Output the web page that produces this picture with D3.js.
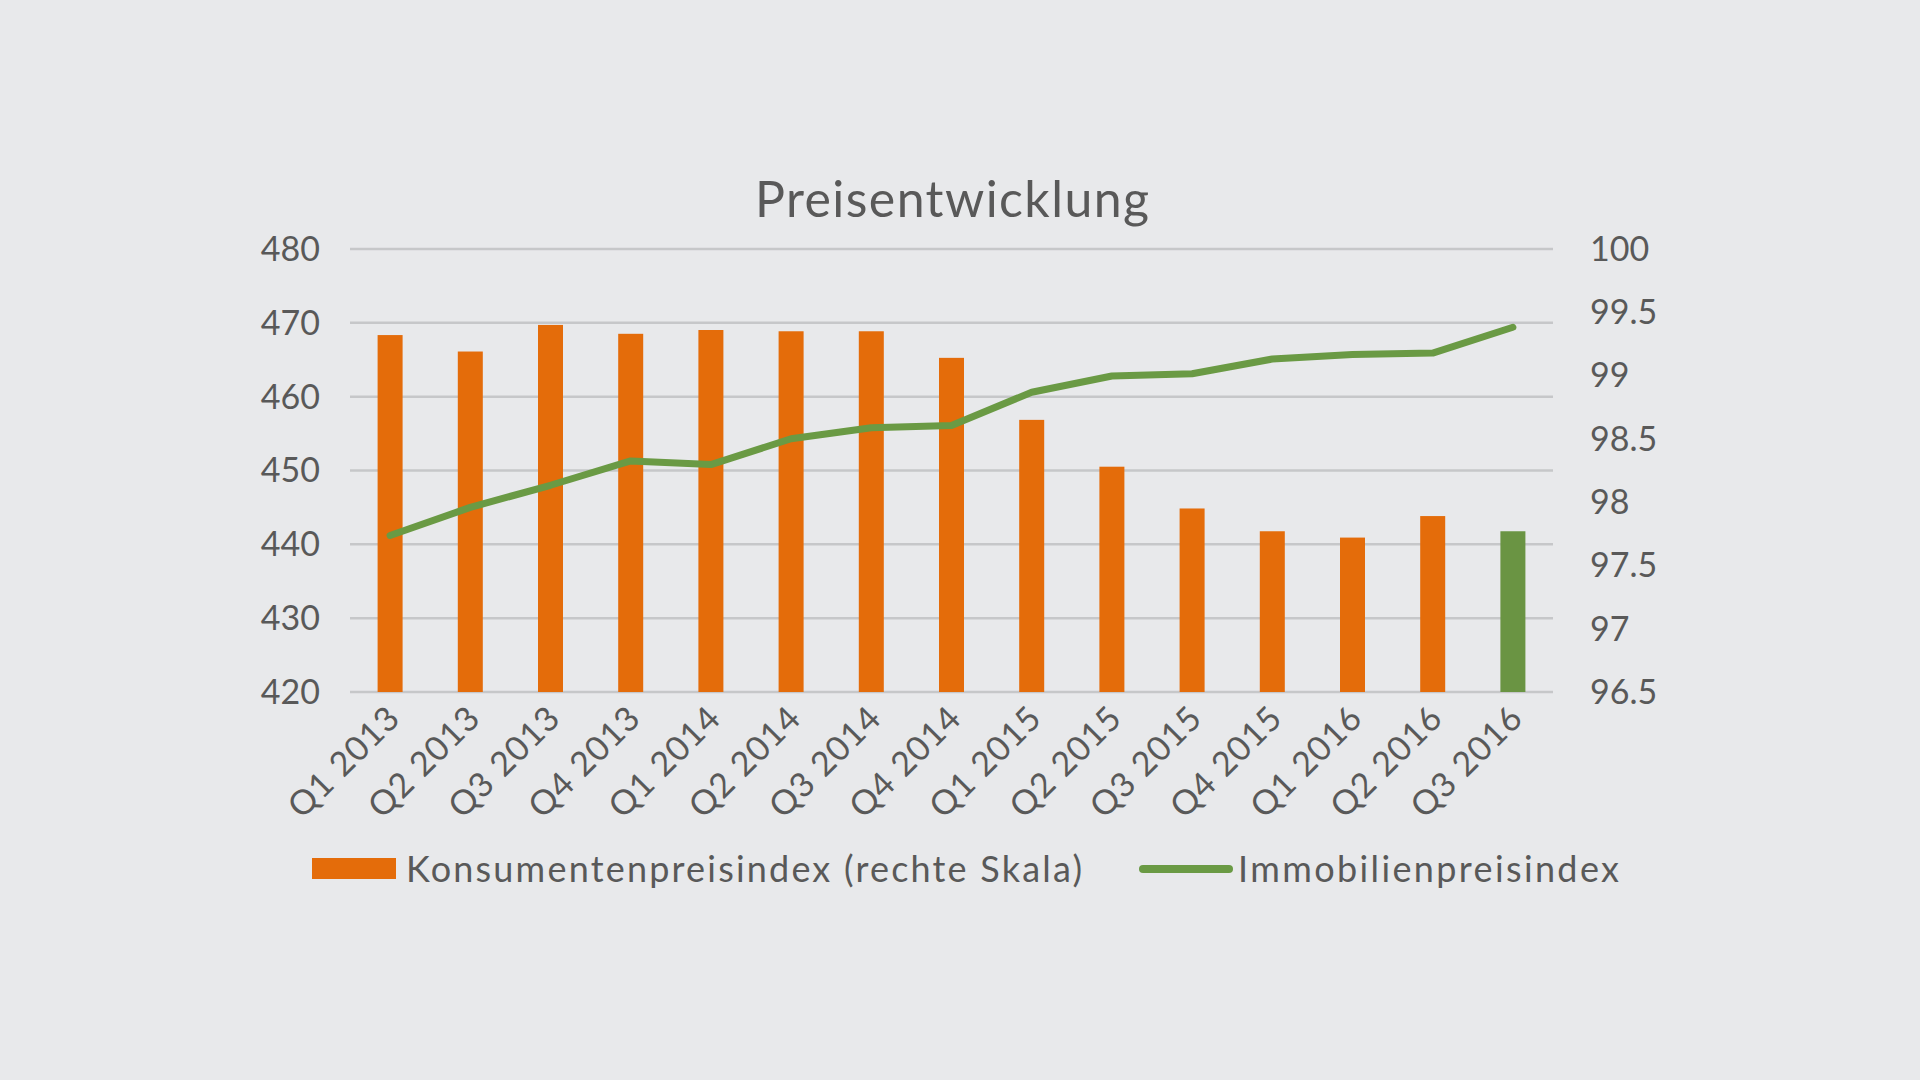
<!DOCTYPE html>
<html><head><meta charset="utf-8">
<script src="https://cdn.jsdelivr.net/npm/d3@7"></script>
<style>body{margin:0;background:#e8e9eb;}svg{display:block;font-family:Lato,"Open Sans",sans-serif;}</style>
</head><body><svg id="c" width="1920" height="1080"></svg>
<script>
const categories=["Q1 2013","Q2 2013","Q3 2013","Q4 2013","Q1 2014","Q2 2014","Q3 2014","Q4 2014","Q1 2015","Q2 2015","Q3 2015","Q4 2015","Q1 2016","Q2 2016","Q3 2016"];
const kpi=[99.32,99.19,99.40,99.33,99.36,99.35,99.35,99.14,98.65,98.28,97.95,97.77,97.72,97.89,97.77];
const immo=[441.2,445.0,448.0,451.3,450.8,454.3,455.8,456.1,460.6,462.8,463.1,465.1,465.7,465.9,469.4];
const leftTicks=[420,430,440,450,460,470,480];
const rightTicks=[96.5,97,97.5,98,98.5,99,99.5,100];
const svg=d3.select("#c");
const L=350,R=1553,T=249,B=692;
const x=d3.scaleBand().domain(categories).range([L,R]);
const yl=d3.scaleLinear().domain([420,480]).range([B,T]);
const yr=d3.scaleLinear().domain([96.5,100]).range([B,T]);
const tc="#595959";
svg.append("g").selectAll("line").data(leftTicks).join("line")
 .attr("x1",L).attr("x2",R).attr("y1",d=>yl(d)).attr("y2",d=>yl(d))
 .attr("stroke","#c6c7c9").attr("stroke-width",2.5);
svg.append("g").selectAll("text").data(leftTicks).join("text")
 .attr("x",L-30).attr("y",d=>yl(d)).attr("dy","0.35em").attr("text-anchor","end")
 .attr("font-size",34).attr("fill",tc).text(d=>d);
svg.append("g").selectAll("text").data(rightTicks).join("text")
 .attr("x",R+37).attr("y",d=>yr(d)).attr("dy","0.35em").attr("text-anchor","start")
 .attr("font-size",34).attr("fill",tc).text(d=>d);
const bw=25;
svg.append("g").selectAll("rect").data(kpi).join("rect")
 .attr("x",(d,i)=>x(categories[i])+x.bandwidth()/2-bw/2).attr("width",bw)
 .attr("y",d=>yr(d)).attr("height",d=>B-yr(d))
 .attr("fill",(d,i)=>i===kpi.length-1?"#6a9443":"#e46c0a");
svg.append("path").datum(immo)
 .attr("d",d3.line().x((d,i)=>x(categories[i])+x.bandwidth()/2).y(d=>yl(d)))
 .attr("fill","none").attr("stroke","#6a9a44").attr("stroke-width",7).attr("stroke-linejoin","round").attr("stroke-linecap","round");
svg.append("g").selectAll("text").data(categories).join("text")
 .attr("transform",d=>`translate(${x(d)+x.bandwidth()/2+12},${B+28}) rotate(-45)`)
 .attr("text-anchor","end").attr("font-size",34).attr("letter-spacing",1).attr("fill",tc).text(d=>d);
svg.append("text").attr("x",755).attr("y",217)
 .attr("font-size",50).attr("fill",tc).attr("textLength",394).attr("lengthAdjust","spacing").text("Preisentwicklung");
svg.append("rect").attr("x",312).attr("y",858).attr("width",84).attr("height",21).attr("fill","#e46c0a");
svg.append("text").attr("x",406).attr("y",869).attr("dy","0.35em").attr("font-size",36).attr("fill",tc)
 .attr("textLength",676).attr("lengthAdjust","spacing").text("Konsumentenpreisindex (rechte Skala)");
svg.append("line").attr("x1",1143).attr("x2",1229).attr("y1",869).attr("y2",869).attr("stroke","#6a9a44").attr("stroke-width",8).attr("stroke-linecap","round");
svg.append("text").attr("x",1238).attr("y",869).attr("dy","0.35em").attr("font-size",36).attr("fill",tc)
 .attr("textLength",381).attr("lengthAdjust","spacing").text("Immobilienpreisindex");
</script></body></html>
